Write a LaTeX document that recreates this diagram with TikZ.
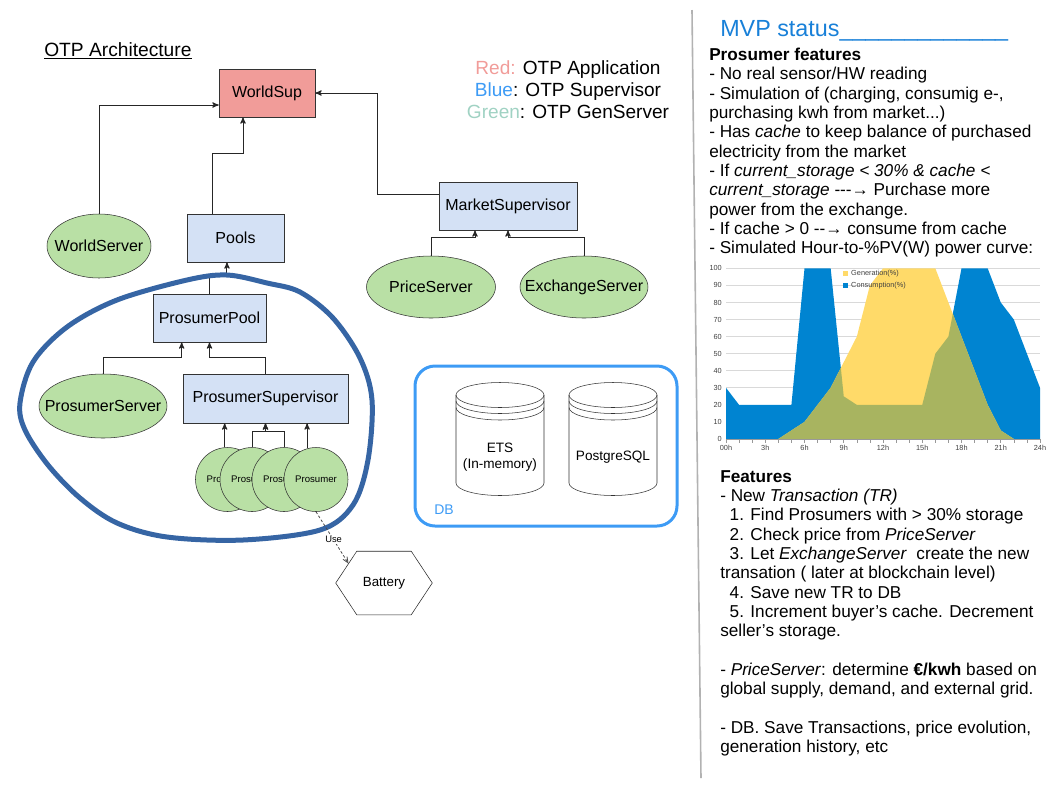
\documentclass[tikz,border=0pt]{standalone}
\usepackage{fontspec}
\setmainfont{Liberation Sans}
\usetikzlibrary{arrows,shapes.geometric,calc}

\definecolor{appred}{RGB}{241,156,153}
\definecolor{supblue}{RGB}{212,225,245}
\definecolor{genfill}{RGB}{185,224,165}
\definecolor{ringblue}{RGB}{54,101,164}
\definecolor{dbblue}{RGB}{61,155,245}
\definecolor{leggreen}{RGB}{160,210,195}
\definecolor{mvpblue}{RGB}{24,128,216}
\definecolor{consblue}{RGB}{0,132,209}
\definecolor{genyellow}{RGB}{255,218,105}
\definecolor{overlap}{RGB}{168,180,96}

\newcommand{\tight}[1]{\makebox[0pt]{#1}}
\newcommand{\conspath}{(0,0) -- (0,30) -- (1,20) -- (5,20) -- (6,100) -- (8,100) -- (9,25) -- (10,20) -- (15,20) -- (16,50) -- (17,60) -- (18,100) -- (20,100) -- (21,80) -- (22,70) -- (24,30) -- (24,0) -- cycle}
\newcommand{\genpath}{(0,0) -- (4,0) -- (5,5) -- (6,10) -- (8,30) -- (9,45) -- (10,60) -- (11,90) -- (12,100) -- (16,100) -- (20,20) -- (21,5) -- (22,0) -- (24,0) -- cycle}

\begin{document}
\begin{tikzpicture}[x=0.75pt,y=-0.75pt,>=stealth',
    link/.style={->,draw=black!85,line width=0.75pt},
    app/.style={draw=black!80,fill=appred,minimum width=72pt,minimum height=36pt,font=\fontsize{12}{14}\selectfont},
    sup/.style={draw=black!80,fill=supblue,inner sep=2pt,minimum height=36pt,font=\fontsize{12}{14}\selectfont},
    gen/.style={ellipse,draw=black!80,fill=genfill,inner sep=0pt,font=\fontsize{12}{14}\selectfont},
    proc/.style={circle,draw=black!80,fill=genfill,inner sep=0pt,minimum size=48pt,font=\fontsize{7.2}{8}\selectfont},
    store/.style={inner sep=0pt,align=center,font=\fontsize{10.2}{12.5}\selectfont},
    chartlbl/.style={inner sep=0pt,text=black!75,font=\fontsize{5.5}{6}\selectfont},
    note/.style={anchor=base west,align=left,inner sep=0pt,font=\fontsize{12.9}{14.5}\selectfont}]

\useasboundingbox (0,0) rectangle (1058,794);

% title and legend
\node[anchor=base west,inner sep=0pt,font=\fontsize{14.4}{17}\selectfont] (title) at (44,56.5) {\underline{OTP Architecture}};
\node[anchor=base,align=center,inner sep=0pt,font=\fontsize{14.3}{16.5}\selectfont] (legend) at (568,118)
  {\textcolor{appred}{Red:} OTP Application\\ \textcolor{dbblue}{Blue}: OTP Supervisor\\ \textcolor{leggreen}{Green}: OTP GenServer};

% supervision tree
\node[app] (wsup) at (267,93) {WorldSup};
\node[gen,minimum width=78pt,minimum height=48pt] (wserver) at (99,246) {\tight{WorldServer}};
\node[sup,minimum width=72.75pt] (pools) at (235.5,238) {Pools};
\node[sup,minimum width=103.5pt] (msup) at (508,206) {MarketSupervisor};
\node[gen,minimum width=96.75pt,minimum height=46.5pt] (pserver) at (431,287) {\tight{PriceServer}};
\node[gen,minimum width=96pt,minimum height=46.5pt] (xserver) at (584,287) {\tight{ExchangeServer}};
\node[sup,minimum width=84.75pt] (ppool) at (209.5,318) {ProsumerPool};
\node[gen,minimum width=96pt,minimum height=48pt] (pserv) at (103,406) {\tight{ProsumerServer}};
\node[sup,minimum width=123.75pt,minimum height=36.75pt] (psup) at (265.5,398.5) {ProsumerSupervisor};
\foreach \n/\x in {1/227.5,2/252,3/284,4/316}
  \node[proc] (p\n) at (\x,479.5) {Prosumer};

\draw[link] (wserver.north) |- ([yshift=-9pt]wsup.west);
\draw[link] ([xshift=-17.6pt]pools.north) -- ++(0,-60) -| ([xshift=-18pt]wsup.south);
\draw[link] ([yshift=9pt]msup.west) -- ++(-61,0) |- (wsup.east);
\draw[link] (pserver.north) -- ++(0,-18) -| ([xshift=-24.75pt]msup.south);
\draw[link] (xserver.north) -- ++(0,-18) -| (msup.south);
\draw[link] (ppool.north) -- ++(0,-17) -| ([xshift=-6.4pt]pools.south);
\draw[link] (pserv.north) -- ++(0,-16) -| ([xshift=-20.85pt]ppool.south);
\draw[link] (psup.north) -- ++(0,-16) -| (ppool.south);
\draw[link] (p1.95) -- (p1.95 |- psup.south);
\draw[link] (p2.north) -- ++(0,-16) -| (psup.south);
\draw[link] (p3.north) -- ++(0,-16) -| (psup.south);
\draw[link] (p4.106) -- (p4.106 |- psup.south);

% prosumer group
\draw[ringblue,line width=3.75pt] plot[smooth cycle,tension=0.55] coordinates {(227,275) (267,283) (300,292) (333,318) (360,358) (372,400) (368,460) (353,505) (320,530) (243,540) (167,537) (117,523) (80,498) (48,465) (25,430) (20,403) (33,362) (67,327) (117,300) (187,280)};

% battery
\node[minimum width=72pt,minimum height=47.25pt,inner sep=0pt,font=\fontsize{10}{12}\selectfont] (bat) at (384,583) {Battery};
\draw[black!85] (bat.west) -- ([xshift=15.75pt]bat.north west) -- ([xshift=-15.75pt]bat.north east) -- (bat.east) -- ([xshift=-15.75pt]bat.south east) -- ([xshift=15.75pt]bat.south west) -- cycle;
\draw[->,>=angle 45,black!70,line width=0.6pt,dash pattern=on 2pt off 1.5pt] (p4.south) -- node[pos=0.54,fill=white,inner sep=0.5pt,text=black,font=\fontsize{7}{8}\selectfont] (use) {Use} ($(bat.west)!0.61!([xshift=15.75pt]bat.north west)$);

% DB
\draw[dbblue,line width=2.25pt,rounded corners=15pt] (415,366) rectangle (677,526);
\node[anchor=base west,inner sep=0pt,text=dbblue,font=\fontsize{10.5}{12}\selectfont] (dblabel) at (434,514) {DB};
\foreach \cx/\nm/\txt in {500/ets/{ETS\\(In-memory)},613/pg/{PostgreSQL}}{
  \draw[black!80,fill=white] (\cx-44,395) -- (\cx-44,483) arc[start angle=180,end angle=0,x radius=44,y radius=12.5] -- (\cx+44,395);
  \draw[black!80] (\cx,395) ellipse [x radius=44,y radius=12.5];
  \draw[black!80] (\cx-44,401) arc[start angle=180,end angle=0,x radius=44,y radius=12.5];
  \draw[black!80] (\cx-44,407.5) arc[start angle=180,end angle=0,x radius=44,y radius=12.5];
  \node[store] (\nm) at (\cx,457) {\txt};
}

% separator
\draw[black!30,line width=1.2pt] (692,10) -- (701,778);

% power curve
\begin{scope}[shift={(726,439)},x=9.8125pt,y=1.28pt]
  \foreach \v in {10,20,...,100}
    \draw[black!15,line width=0.5pt] (0,\v) -- (24,\v);
  \fill[consblue] \conspath;
  \fill[genyellow] \genpath;
  \begin{scope}
    \clip \conspath;
    \fill[overlap] \genpath;
  \end{scope}
  \draw[black!40,line width=0.5pt] (0,0) -- (24,0);
  \foreach \h in {0,...,24}
    \draw[black!40,line width=0.5pt] (\h,0) -- ++(0,-2.5);
  \foreach \v in {0,10,...,100}
    \node[chartlbl,anchor=east] (ylab\v) at (-0.3,\v) {\v};
  \foreach \h/\t in {0/00h,3/3h,6/6h,9/9h,12/12h,15/15h,18/18h,21/21h,24/24h}
    \node[chartlbl,anchor=north] (xlab\h) at (\h,-3.5) {\t};
  \fill[genyellow] (8.94,98.4) rectangle (9.33,95.5);
  \fill[consblue] (8.94,91.4) rectangle (9.33,88.5);
  \node[chartlbl,anchor=west] (lgen) at (9.55,97) {Generation(\%)};
  \node[chartlbl,anchor=west] (lcons) at (9.55,90) {Consumption(\%)};
\end{scope}

% status notes
\node[anchor=base west,inner sep=0pt,text=mvpblue,font=\fontsize{17.5}{20}\selectfont] (mvp) at (720,36) {MVP status\_\_\_\_\_\_\_\_\_\_\_\_\_};
\node[note] (prosumer) at (709,253.8) {\textbf{Prosumer features}\\
- No real sensor/HW reading\\
- Simulation of (charging, consumig e-,\\
purchasing kwh from market...)\\
- Has \textit{cache} to keep balance of purchased\\
electricity from the market\\
- If \textit{current\_storage < 30\% \& cache <}\\
\textit{current\_storage} -{}-{}-→ Purchase more\\
power from the exchange.\\
- If cache > 0 -{}-→ consume from cache\\
- Simulated Hour-to-\%PV(W) power curve:};
\node[note] (features) at (720,752.7) {\textbf{Features}\\
- New \textit{Transaction (TR)}\\
\hspace*{0.55em}1. Find Prosumers with > 30\% storage\\
\hspace*{0.55em}2. Check price from \textit{PriceServer}\\
\hspace*{0.55em}3. Let \textit{ExchangeServer}\ \ create the new\\
transation ( later at blockchain level)\\
\hspace*{0.55em}4. Save new TR to DB\\
\hspace*{0.55em}5. Increment buyer's cache. Decrement\\
seller's storage.\\[14.5pt]
- \textit{PriceServer}: determine \textbf{€/kwh} based on\\
global supply, demand, and external grid.\\[14.5pt]
- DB. Save Transactions, price evolution,\\
generation history, etc};

\end{tikzpicture}
\end{document}
